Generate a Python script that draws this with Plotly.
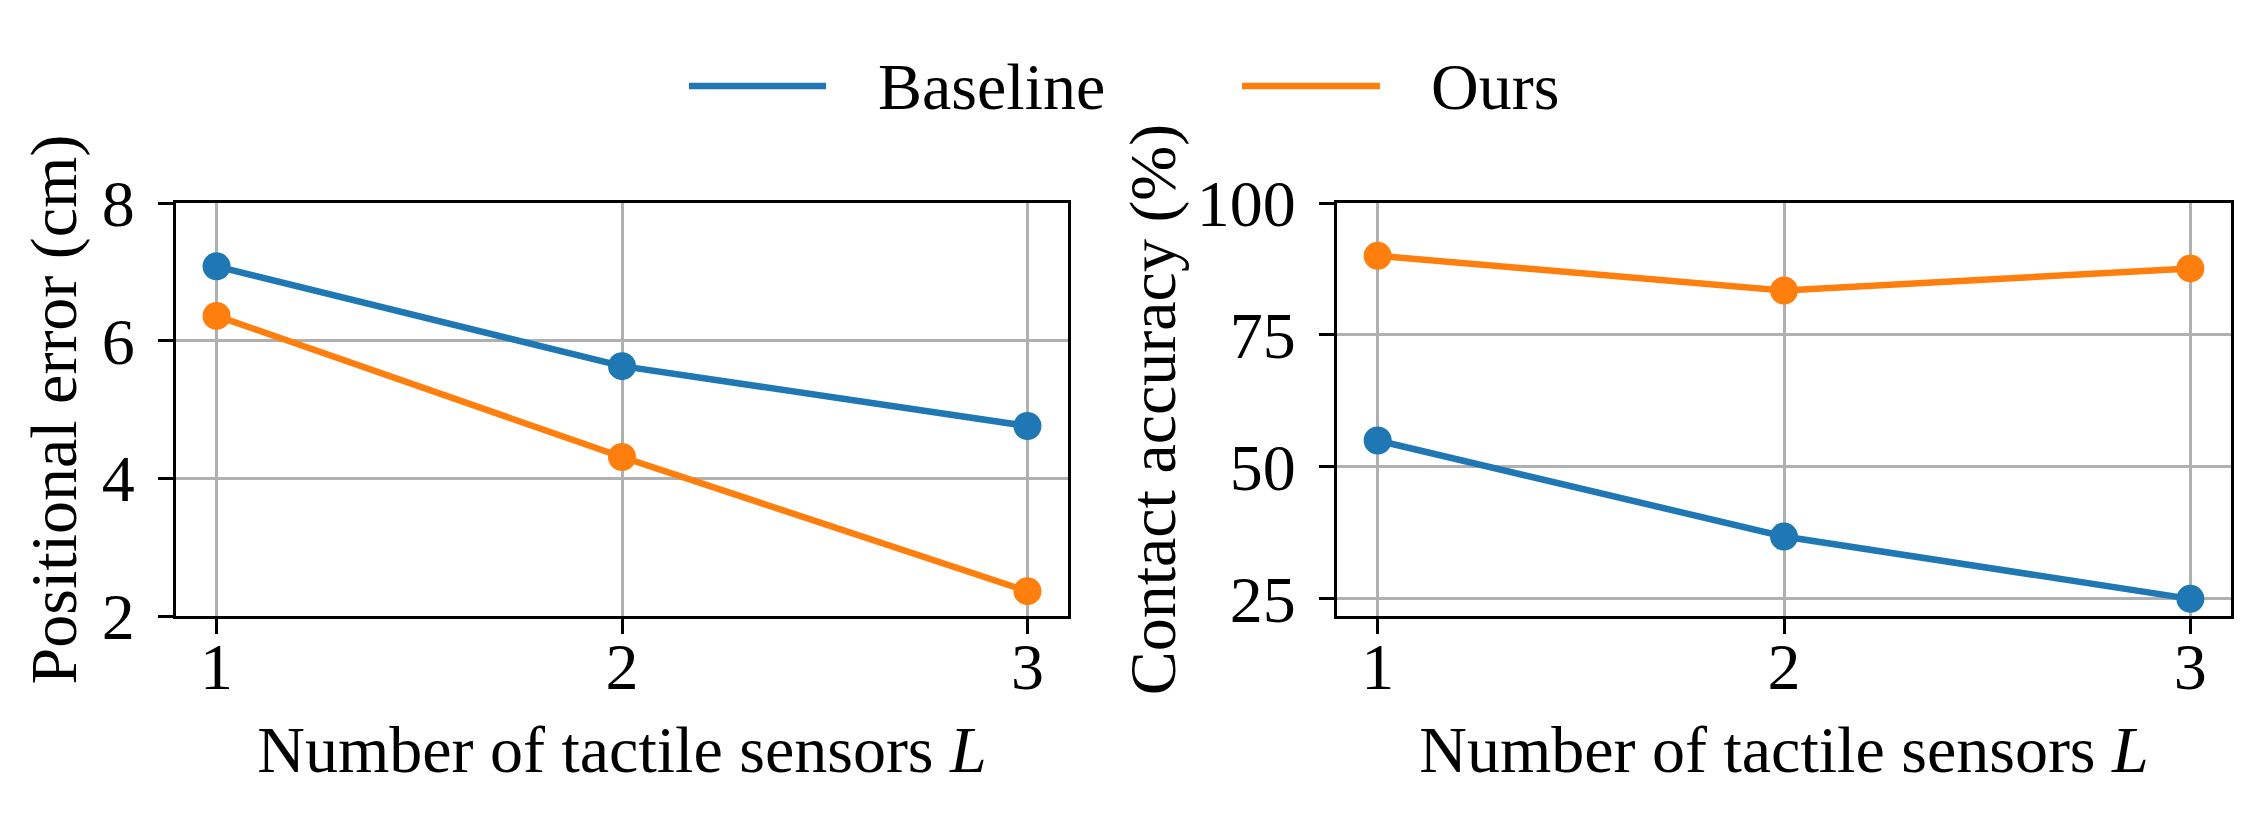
import plotly.graph_objects as go
from plotly.subplots import make_subplots

# number of tactile sensors L
sensors = [1, 2, 3]

# left panel: positional error (cm)
pos_err_baseline = [7.08, 5.63, 4.76]
pos_err_ours = [6.36, 4.31, 2.36]

# right panel: contact accuracy (%)
contact_baseline = [55.0, 36.8, 25.0]
contact_ours = [90.0, 83.4, 87.6]

series_names = ["Baseline", "Ours"]
series_colors = ["#1f77b4", "#ff7f0e"]

W, H = 2259, 815
FONT = "Liberation Serif"
FS = 66


def px_x(p):
    return p / W


def px_y(p):
    return 1 - p / H


fig = make_subplots(rows=1, cols=2)

panels = [
    (1, pos_err_baseline, pos_err_ours),
    (2, contact_baseline, contact_ours),
]
for col, base, ours in panels:
    for name, color, vals in zip(series_names, series_colors, [base, ours]):
        fig.add_trace(
            go.Scatter(
                x=sensors,
                y=vals,
                mode="lines+markers",
                name=name,
                line=dict(color=color, width=6.5),
                marker=dict(color=color, size=28),
                showlegend=False,
            ),
            row=1,
            col=col,
        )

axis_style = dict(
    showline=True,
    linecolor="black",
    linewidth=3.3,
    mirror=True,
    ticks="outside",
    ticklen=15,
    tickwidth=3.3,
    tickcolor="black",
    showgrid=True,
    gridcolor="#b0b0b0",
    gridwidth=3.3,
    zeroline=False,
    layer="above traces",
    tickfont=dict(family=FONT, size=FS, color="black"),
    title_font=dict(family=FONT, size=FS, color="black"),
)

x_title = "Number of tactile sensors <i>L</i>"
fig.update_xaxes(
    axis_style,
    range=[0.9, 3.1],
    tickvals=sensors,
    ticklabelstandoff=-24,
    title_text=x_title,
    title_standoff=24,
)
fig.update_xaxes(domain=[px_x(176), px_x(1068)], row=1, col=1)
fig.update_xaxes(domain=[px_x(1337), px_x(2231)], row=1, col=2)

fig.update_yaxes(axis_style, domain=[px_y(616), px_y(203)], ticklabelstandoff=10)
fig.update_yaxes(
    range=[2, 8],
    tickvals=[2, 4, 6, 8],
    title_text="Positional error (cm)",
    title_standoff=4,
    row=1,
    col=1,
)
fig.update_yaxes(
    range=[21.75, 100],
    tickvals=[25, 50, 75, 100],
    title_text="Contact accuracy (%)",
    title_standoff=0,
    row=1,
    col=2,
)

# legend drawn as line keys + labels across the top
legend_y = px_y(86)
legend_keys = [(689, 826, 876), (1242, 1380, 1429)]
for name, color, (x0, x1, xt) in zip(series_names, series_colors, legend_keys):
    fig.add_shape(
        type="line",
        xref="paper",
        yref="paper",
        x0=px_x(x0),
        x1=px_x(x1),
        y0=legend_y,
        y1=legend_y,
        line=dict(color=color, width=6.5),
    )
    fig.add_annotation(
        text=name,
        xref="paper",
        yref="paper",
        x=px_x(xt),
        y=legend_y,
        xanchor="left",
        yanchor="middle",
        showarrow=False,
        font=dict(family=FONT, size=FS, color="black"),
    )

fig.update_layout(
    template="none",
    width=W,
    height=H,
    margin=dict(l=0, r=0, t=0, b=0),
    paper_bgcolor="white",
    plot_bgcolor="white",
    showlegend=False,
)

fig.write_html(
    "out.html",
    config={"displayModeBar": False},
    post_script="document.body.style.margin='0';",
)
